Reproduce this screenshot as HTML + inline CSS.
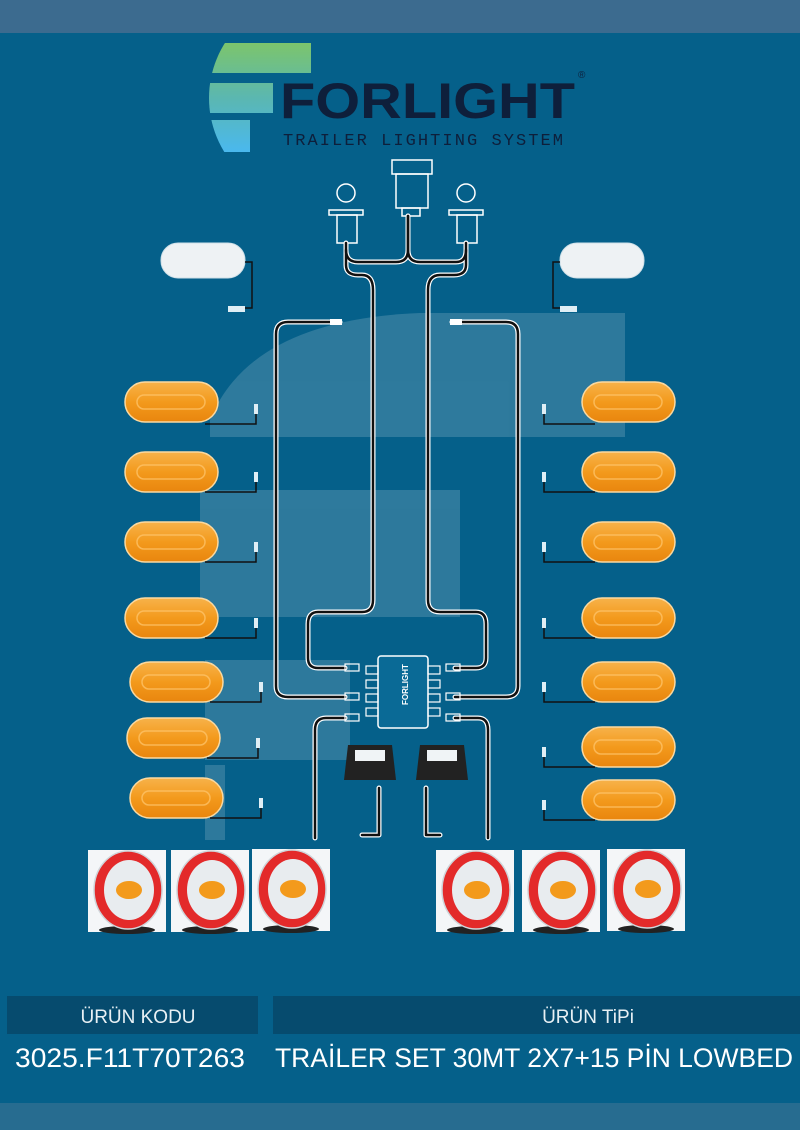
<!DOCTYPE html>
<html><head><meta charset="utf-8"><style>
html,body{margin:0;padding:0;}
body{width:800px;height:1130px;overflow:hidden;background:#05608a;font-family:"Liberation Sans",sans-serif;position:relative}
</style></head><body>
<svg width="800" height="1130" viewBox="0 0 800 1130" xmlns="http://www.w3.org/2000/svg" style="position:absolute;left:0;top:0">
<defs>
<linearGradient id="lg" gradientUnits="userSpaceOnUse" x1="0" y1="43" x2="0" y2="152">
<stop offset="0" stop-color="#7cc56c"/><stop offset="0.5" stop-color="#5bb7b0"/><stop offset="1" stop-color="#4ab8ee"/></linearGradient>
<linearGradient id="amb" x1="0" y1="0" x2="0" y2="1">
<stop offset="0" stop-color="#f7b24a"/><stop offset="0.5" stop-color="#f39a1c"/><stop offset="1" stop-color="#e9860e"/></linearGradient>
<clipPath id="fc"><circle cx="312" cy="98" r="103"/></clipPath>
<g id="amber">
<rect x="0" y="0" width="93" height="40" rx="20" fill="url(#amb)" stroke="#fbd9a0" stroke-width="1.5"/>
<rect x="12" y="13" width="68" height="14" rx="7" fill="none" stroke="#ffc870" stroke-width="1.5" opacity="0.7"/>
</g>
<g id="round">
<rect x="0" y="0" width="78" height="82" fill="#f4f6f8"/>
<ellipse cx="39" cy="80" rx="28" ry="4" fill="#222"/>
<ellipse cx="40" cy="40" rx="34" ry="39" fill="#e32a2a" stroke="#cfd5da" stroke-width="1.5"/>
<ellipse cx="41" cy="40" rx="25" ry="30" fill="#e8ecef"/>
<ellipse cx="41" cy="40" rx="13" ry="9" fill="#f39a1c"/>
</g>
</defs>
<rect x="0" y="0" width="800" height="33" fill="#3c6b8f"/>
<rect x="0" y="1103" width="800" height="27" fill="#276c90"/>
<g fill="#ffffff" opacity="0.16">
<path d="M420 313 L625 313 L625 437 L210 437 L210 420 Q250 320 420 313 Z"/>
<path d="M200 490 L460 490 L460 617 L200 617 Z"/>
<path d="M205 660 L350 660 L350 760 L205 760 Z"/>
<path d="M205 765 L225 765 L225 840 L205 840 Z"/>
</g>
<g clip-path="url(#fc)">
<rect x="200" y="43" width="111" height="30" fill="url(#lg)"/>
<rect x="200" y="83" width="73" height="30" fill="url(#lg)"/>
<rect x="200" y="120" width="50" height="32" fill="url(#lg)"/>
</g>
<text x="280" y="118" font-family="Liberation Sans,sans-serif" font-weight="bold" font-size="50" fill="#0e1f3b" textLength="295" lengthAdjust="spacingAndGlyphs">FORLIGHT</text>
<text x="578" y="78" font-size="10" fill="#0e1f3b">®</text>
<text x="283" y="145" font-family="Liberation Mono,monospace" font-size="17" fill="#0e1f3b" textLength="280" lengthAdjust="spacing">TRAILER LIGHTING SYSTEM</text>
<g fill="none" stroke="#fff" stroke-width="1.5">
<rect x="392" y="160" width="40" height="14"/><rect x="396" y="174" width="32" height="34"/><rect x="402" y="208" width="18" height="8"/>
<circle cx="346" cy="193" r="9"/><rect x="329" y="210" width="34" height="5"/><rect x="337" y="215" width="20" height="28"/>
<circle cx="466" cy="193" r="9"/><rect x="449" y="210" width="34" height="5"/><rect x="457" y="215" width="20" height="28"/>
</g>
<g fill="none" stroke-linejoin="round" stroke-linecap="round">
<g stroke="#fff" stroke-width="5">
<path d="M408 216 V250 Q408 262 396 262 H358 Q346 262 346 250"/>
<path d="M408 216 V250 Q408 262 420 262 H456 Q466 262 466 250"/>
<path d="M346 243 V265 Q346 275 358 275 H362 Q373 275 373 290 V600 Q373 612 362 612 H318 Q308 612 308 624 V658 Q308 668 318 668 H345"/>
<path d="M466 243 V265 Q466 275 454 275 H440 Q428 275 428 290 V600 Q428 612 440 612 H476 Q486 612 486 624 V658 Q486 668 476 668 H455"/>
<path d="M340 322 H288 Q276 322 276 334 V686 Q276 697 288 697 H345"/>
<path d="M452 322 H506 Q518 322 518 334 V686 Q518 697 506 697 H455"/>
<path d="M345 718 H326 Q315 718 315 730 V838"/>
<path d="M455 718 H478 Q488 718 488 730 V838"/>
<path d="M379 788 V835 H362"/><path d="M426 788 V835 H440"/>
</g>
<g stroke="#111" stroke-width="2.5">
<path d="M408 216 V250 Q408 262 396 262 H358 Q346 262 346 250"/>
<path d="M408 216 V250 Q408 262 420 262 H456 Q466 262 466 250"/>
<path d="M346 243 V265 Q346 275 358 275 H362 Q373 275 373 290 V600 Q373 612 362 612 H318 Q308 612 308 624 V658 Q308 668 318 668 H345"/>
<path d="M466 243 V265 Q466 275 454 275 H440 Q428 275 428 290 V600 Q428 612 440 612 H476 Q486 612 486 624 V658 Q486 668 476 668 H455"/>
<path d="M340 322 H288 Q276 322 276 334 V686 Q276 697 288 697 H345"/>
<path d="M452 322 H506 Q518 322 518 334 V686 Q518 697 506 697 H455"/>
<path d="M345 718 H326 Q315 718 315 730 V838"/>
<path d="M455 718 H478 Q488 718 488 730 V838"/>
<path d="M379 788 V835 H362"/><path d="M426 788 V835 H440"/>
</g>
</g>
<rect x="330" y="319" width="12" height="6" fill="#fff"/>
<rect x="450" y="319" width="12" height="6" fill="#fff"/>
<rect x="378" y="656" width="50" height="72" rx="3" fill="#0a6a96" stroke="#fff" stroke-width="1.5"/>
<g fill="none" stroke="#fff" stroke-width="1.2">
<rect x="366" y="666" width="12" height="8"/><rect x="366" y="680" width="12" height="8"/><rect x="366" y="694" width="12" height="8"/><rect x="366" y="708" width="12" height="8"/>
<rect x="428" y="666" width="12" height="8"/><rect x="428" y="680" width="12" height="8"/><rect x="428" y="694" width="12" height="8"/><rect x="428" y="708" width="12" height="8"/>
<rect x="345" y="664" width="14" height="7"/><rect x="345" y="693" width="14" height="7"/><rect x="345" y="714" width="14" height="7"/>
<rect x="446" y="664" width="14" height="7"/><rect x="446" y="693" width="14" height="7"/><rect x="446" y="714" width="14" height="7"/>
</g>
<text x="0" y="0" transform="translate(408,705) rotate(-90)" font-size="8" font-weight="bold" fill="#fff">FORLIGHT</text>
<path d="M348 745 H392 L396 780 H344 Z" fill="#222"/><rect x="355" y="750" width="30" height="11" fill="#f0f4f6"/>
<path d="M420 745 H464 L468 780 H416 Z" fill="#222"/><rect x="427" y="750" width="30" height="11" fill="#f0f4f6"/>
<rect x="161" y="243" width="84" height="35" rx="17" fill="#eef2f4" stroke="#cfe0e8"/>
<rect x="560" y="243" width="84" height="35" rx="17" fill="#eef2f4" stroke="#cfe0e8"/>
<g fill="none" stroke="#111" stroke-width="1.5">
<path d="M245 262 H252 V308 H245"/><path d="M560 262 H553 V308 H560"/>
</g>
<rect x="228" y="306" width="17" height="6" fill="#dfeef5"/><rect x="560" y="306" width="17" height="6" fill="#dfeef5"/>
<g>
<use href="#amber" x="125" y="382"/><use href="#amber" x="125" y="452"/><use href="#amber" x="125" y="522"/>
<use href="#amber" x="125" y="598"/><use href="#amber" x="130" y="662"/><use href="#amber" x="127" y="718"/><use href="#amber" x="130" y="778"/>
<use href="#amber" x="582" y="382"/><use href="#amber" x="582" y="452"/><use href="#amber" x="582" y="522"/>
<use href="#amber" x="582" y="598"/><use href="#amber" x="582" y="662"/><use href="#amber" x="582" y="727"/><use href="#amber" x="582" y="780"/>
</g>
<g fill="none" stroke="#111" stroke-width="1.5">
<path d="M205 424 H256 V410"/><path d="M205 492 H256 V478"/><path d="M205 562 H256 V548"/><path d="M205 638 H256 V624"/>
<path d="M210 702 H261 V688"/><path d="M207 758 H258 V744"/><path d="M210 818 H261 V804"/>
<path d="M595 424 H544 V410"/><path d="M595 492 H544 V478"/><path d="M595 562 H544 V548"/><path d="M595 638 H544 V624"/>
<path d="M595 702 H544 V688"/><path d="M595 767 H544 V753"/><path d="M595 820 H544 V806"/>
</g>
<g fill="#dfeef5">
<rect x="254" y="404" width="4" height="10"/><rect x="254" y="472" width="4" height="10"/><rect x="254" y="542" width="4" height="10"/><rect x="254" y="618" width="4" height="10"/>
<rect x="259" y="682" width="4" height="10"/><rect x="256" y="738" width="4" height="10"/><rect x="259" y="798" width="4" height="10"/>
<rect x="542" y="404" width="4" height="10"/><rect x="542" y="472" width="4" height="10"/><rect x="542" y="542" width="4" height="10"/><rect x="542" y="618" width="4" height="10"/>
<rect x="542" y="682" width="4" height="10"/><rect x="542" y="747" width="4" height="10"/><rect x="542" y="800" width="4" height="10"/>
</g>
<use href="#round" x="88" y="850"/><use href="#round" x="171" y="850"/><use href="#round" x="252" y="849"/>
<use href="#round" x="436" y="850"/><use href="#round" x="522" y="850"/><use href="#round" x="607" y="849"/>
<rect x="7" y="996" width="251" height="38" fill="#064b6e"/>
<rect x="273" y="996" width="527" height="38" fill="#064b6e"/>
<text x="138" y="1023" text-anchor="middle" font-size="19" fill="#e8f0f4">ÜRÜN KODU</text>
<text x="588" y="1023" text-anchor="middle" font-size="19" fill="#e8f0f4">ÜRÜN TiPi</text>
<text x="130" y="1067" text-anchor="middle" font-size="27" fill="#fff" textLength="230" lengthAdjust="spacingAndGlyphs">3025.F11T70T263</text>
<text x="275" y="1067" font-size="27" fill="#fff" textLength="518" lengthAdjust="spacingAndGlyphs">TRAİLER SET 30MT 2X7+15 PİN LOWBED</text>
</svg>
</body></html>
